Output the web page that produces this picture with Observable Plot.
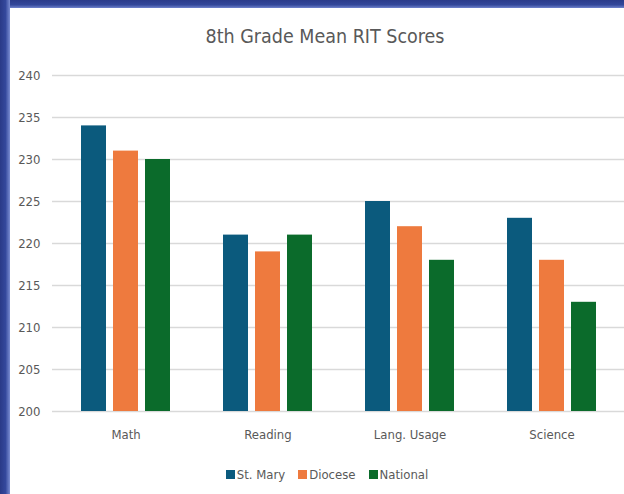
<!DOCTYPE html>
<html>
<head>
<meta charset="utf-8">
<script src="https://cdn.jsdelivr.net/npm/d3@7"></script>
<script src="https://cdn.jsdelivr.net/npm/@observablehq/plot@0.6"></script>
<style>
  html, body { margin: 0; padding: 0; background: #fff; overflow: hidden; }
  body { width: 624px; height: 494px; position: relative;
         font-family: "DejaVu Sans Condensed", "Liberation Sans", sans-serif; color: #595959; }
  #frameTop { position: absolute; left: 0; top: 0; width: 624px; height: 8px;
              background: linear-gradient(to bottom, #2b3b8a 0%, #33479a 60%, #6f82cc 100%); z-index: 2; }
  #frameLeft { position: absolute; left: 0; top: 0; width: 10px; height: 494px;
               background: linear-gradient(to right, #2a3a88 0%, #34489c 55%, #7b8dd2 100%); z-index: 2; }
  #title { height: 60px; width: 650px; text-align: center; font-size: 19.5px; line-height: 74px; color: #595959; }
  #chart { height: 395px; }
  #legend { height: 39px; width: 654px; display: flex; justify-content: center; align-items: center; gap: 13px; font-size: 13px; }
  .item { display: flex; align-items: center; gap: 2px; }
  .sw { width: 9px; height: 9px; display: inline-block; }
</style>
</head>
<body>
<div id="frameTop"></div>
<div id="frameLeft"></div>
<div id="title">8th Grade Mean RIT Scores</div>
<div id="chart"></div>
<div id="legend"></div>
<script>
const categories = ["Math", "Reading", "Lang. Usage", "Science"];
const seriesNames = ["St. Mary", "Diocese", "National"];
const stMary = [234, 221, 225, 223];
const diocese = [231, 219, 222, 218];
const national = [230, 221, 218, 213];
const yTicks = [200, 205, 210, 215, 220, 225, 230, 235, 240];
const colors = ["#0b5a7d", "#ee7a3e", "#0b6b2b"];

const seriesValues = [stMary, diocese, national];
const tables = seriesValues.map((vals, i) =>
  categories.map((c, j) => ({category: c, series: seriesNames[i], value: vals[j]})));

const plot = Plot.plot({
  width: 624,
  height: 395,
  marginLeft: 52,
  marginRight: 0,
  marginTop: 15,
  marginBottom: 44,
  style: {fontFamily: '"DejaVu Sans Condensed", "Liberation Sans", sans-serif', fontSize: "13px", color: "#595959", background: "transparent"},
  x: {domain: categories, paddingInner: 0.825, paddingOuter: 0.4126, label: null, tickSize: 0, tickPadding: 18},
  y: {domain: [200, 240], ticks: yTicks, label: null, tickSize: 0, tickPadding: 12},
  marks: [
    Plot.ruleY(yTicks, {stroke: "#d9d9d9", strokeWidth: 1.3}),
    ...tables.map((t, i) => Plot.barY(t, {x: "category", y1: 200, y2: "value", fill: colors[i], dx: (i - 1) * 32}))
  ]
});
document.getElementById("chart").appendChild(plot);

const legend = document.getElementById("legend");
seriesNames.forEach((name, i) => {
  const item = document.createElement("span");
  item.className = "item";
  const sw = document.createElement("span");
  sw.className = "sw";
  sw.style.background = colors[i];
  item.appendChild(sw);
  const label = document.createElement("span");
  label.textContent = name;
  item.appendChild(label);
  legend.appendChild(item);
});
</script>
</body>
</html>
